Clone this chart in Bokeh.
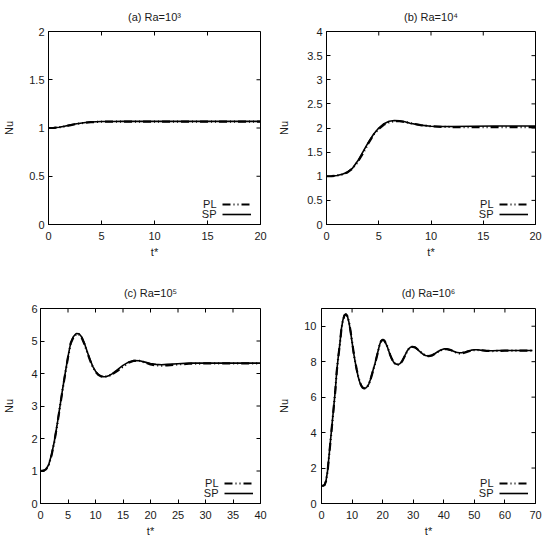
import math
from bokeh.plotting import figure
from bokeh.layouts import column, row
from bokeh.models import Range1d, FixedTicker, Legend, LegendItem, Label, CustomJSTickFormatter
from bokeh.core.properties import value
from bokeh.embed import file_html
from bokeh.resources import INLINE

FONT = "Liberation Sans"
TXT = "#1a1a1a"

# ---------------- data ----------------
titles = ["(a) Ra=10\u00b3", "(b) Ra=10\u2074", "(c) Ra=10\u2075", "(d) Ra=10\u2076"]
series_names = ["PL", "SP"]

a_xticks = [0, 5, 10, 15, 20]
a_yticks = [0, 0.5, 1, 1.5, 2]
a_t = [0, 0.5, 1, 1.5, 2, 2.5, 3, 3.5, 4, 4.5, 5, 6, 7, 8, 10, 12, 14, 16, 18, 19, 20]
a_sp = [1.000, 1.002, 1.008, 1.018, 1.030, 1.041, 1.050, 1.057, 1.062, 1.065, 1.067,
        1.068, 1.069, 1.069, 1.069, 1.069, 1.069, 1.069, 1.069, 1.069, 1.069]
a_pl = [1.000, 1.002, 1.007, 1.016, 1.028, 1.039, 1.048, 1.055, 1.060, 1.063, 1.065,
        1.066, 1.066, 1.066, 1.066, 1.066, 1.066, 1.066, 1.066, 1.066, 1.066]

b_xticks = [0, 5, 10, 15, 20]
b_yticks = [0, 0.5, 1, 1.5, 2, 2.5, 3, 3.5, 4]
b_t = [0, 0.5, 1, 1.5, 2, 2.5, 3, 3.5, 4, 4.5, 5, 5.5, 6, 6.5, 7, 7.5, 8, 9, 10, 11, 12,
       14, 16, 18, 20]
b_sp = [1.000, 1.003, 1.015, 1.040, 1.085, 1.17, 1.32, 1.51, 1.70, 1.87, 2.00, 2.09, 2.14,
        2.155, 2.15, 2.13, 2.10, 2.06, 2.035, 2.03, 2.03, 2.035, 2.04, 2.04, 2.04]
b_pl = [1.000, 1.003, 1.013, 1.037, 1.080, 1.16, 1.30, 1.48, 1.68, 1.86, 1.98, 2.07, 2.12,
        2.14, 2.14, 2.125, 2.10, 2.06, 2.035, 2.025, 2.02, 2.02, 2.02, 2.02, 2.02]

c_xticks = [0, 5, 10, 15, 20, 25, 30, 35, 40]
c_yticks = [0, 1, 2, 3, 4, 5, 6]
c_t = [0, 0.5, 1, 1.5, 2, 2.5, 3, 3.5, 4, 4.5, 5, 5.5, 6, 6.5, 7, 7.5, 8, 8.5, 9, 9.5,
       10, 10.5, 11, 11.5, 12, 12.5, 13, 14, 15, 16, 17, 18, 19, 20, 21, 22, 23, 25, 27,
       30, 35, 40]
c_sp = [1.00, 1.01, 1.05, 1.20, 1.50, 1.90, 2.40, 2.95, 3.50, 4.02, 4.52, 4.95, 5.14,
        5.23, 5.22, 5.12, 4.92, 4.67, 4.43, 4.22, 4.07, 3.97, 3.92, 3.90, 3.91, 3.94,
        3.99, 4.12, 4.25, 4.35, 4.40, 4.39, 4.35, 4.31, 4.28, 4.27, 4.28, 4.30, 4.32,
        4.32, 4.32, 4.32]
c_pl = [1.00, 1.01, 1.05, 1.19, 1.48, 1.88, 2.38, 2.93, 3.48, 4.00, 4.50, 4.93, 5.12,
        5.21, 5.20, 5.10, 4.90, 4.65, 4.41, 4.20, 4.05, 3.96, 3.91, 3.90, 3.91, 3.93,
        3.97, 4.08, 4.21, 4.33, 4.39, 4.39, 4.34, 4.28, 4.25, 4.24, 4.25, 4.28, 4.30,
        4.31, 4.31, 4.31]

d_xticks = [0, 10, 20, 30, 40, 50, 60, 70]
d_yticks = [0, 2, 4, 6, 8, 10]
d_t = [0, 0.5, 1, 1.5, 2, 2.5, 3, 3.5, 4, 4.5,
       5, 5.5, 6, 6.5, 7, 7.5, 8, 8.5, 9, 9.5,
       10, 10.5, 11, 11.5, 12, 12.5, 13, 13.5, 14, 14.5,
       15, 15.5, 16, 16.5, 17, 17.5, 18, 18.5, 19, 19.5,
       20, 20.5, 21, 21.5, 22, 22.5, 23, 23.5, 24, 24.5,
       25, 25.5, 26, 26.5, 27, 27.5, 28, 28.5, 29, 29.5,
       30, 30.5, 31, 32, 33, 34, 35, 36, 37, 38,
       39, 40, 41, 42, 43, 44, 45, 46, 47, 48,
       49, 50, 51, 52, 54, 56, 58, 60, 65, 69]
d_sp = [1.0, 1.0, 1.05, 1.3, 1.85, 2.75, 3.65, 4.55, 5.45, 6.35,
        7.5, 8.3, 9.0, 9.85, 10.35, 10.62, 10.68, 10.55, 10.2, 9.7,
        9.1, 8.5, 8.0, 7.55, 7.15, 6.85, 6.65, 6.53, 6.5, 6.52,
        6.6, 6.75, 7.0, 7.3, 7.6, 7.9, 8.25, 8.6, 8.95, 9.18,
        9.25, 9.2, 9.05, 8.85, 8.6, 8.35, 8.15, 8.0, 7.9, 7.86,
        7.85, 7.87, 7.95, 8.08, 8.25, 8.42, 8.6, 8.72, 8.8, 8.84,
        8.84, 8.82, 8.76, 8.6, 8.45, 8.35, 8.32, 8.36, 8.45, 8.56,
        8.66, 8.72, 8.72, 8.67, 8.6, 8.53, 8.5, 8.51, 8.55, 8.6,
        8.65, 8.67, 8.67, 8.65, 8.62, 8.62, 8.63, 8.63, 8.63, 8.63]
d_pl = [1.0, 1.0, 1.04, 1.28, 1.82, 2.72, 3.62, 4.52, 5.42, 6.32,
        7.47, 8.27, 8.98, 9.82, 10.33, 10.61, 10.68, 10.56, 10.22, 9.73,
        9.13, 8.53, 8.03, 7.57, 7.16, 6.86, 6.65, 6.53, 6.49, 6.51,
        6.58, 6.73, 6.97, 7.27, 7.57, 7.87, 8.22, 8.57, 8.92, 9.16,
        9.24, 9.2, 9.06, 8.87, 8.62, 8.37, 8.16, 8.0, 7.89, 7.84,
        7.83, 7.86, 7.93, 8.06, 8.23, 8.4, 8.58, 8.71, 8.79, 8.83,
        8.83, 8.81, 8.76, 8.61, 8.46, 8.35, 8.31, 8.34, 8.43, 8.54,
        8.64, 8.7, 8.71, 8.67, 8.6, 8.52, 8.47, 8.47, 8.52, 8.58,
        8.63, 8.65, 8.66, 8.65, 8.61, 8.6, 8.61, 8.62, 8.62, 8.62]


def style_axis(ax, ticks, label_standoff, axis_label_standoff):
    ax.ticker = FixedTicker(ticks=ticks)
    ax.formatter = CustomJSTickFormatter(code="return String(tick);")
    ax.major_tick_in = 4
    ax.major_tick_out = 0
    ax.minor_tick_line_color = None
    ax.axis_line_color = "black"
    ax.major_tick_line_color = "black"
    ax.major_label_text_font = FONT
    ax.major_label_text_font_size = "11px"
    ax.major_label_text_color = TXT
    ax.major_label_standoff = label_standoff
    ax.axis_label_text_font = FONT
    ax.axis_label_text_font_size = "11px"
    ax.axis_label_text_font_style = "normal"
    ax.axis_label_text_color = TXT
    ax.axis_label_standoff = axis_label_standoff


def panel(title, t, pl, sp, xmax, ymax, xticks, yticks, width, height,
          bl, br, bt, bb, ytick_so, ylab_so, title_so, key_text_r, key_glyph_r):
    fw = width - bl - br
    p = figure(width=width, height=height, x_range=Range1d(0, xmax), y_range=Range1d(0, ymax),
               output_backend="svg", toolbar_location=None, tools="",
               min_border_left=bl, min_border_right=br, min_border_top=bt,
               min_border_bottom=bb, x_axis_label="t*", y_axis_label="Nu")
    p.title.text = title
    p.title.align = "center"
    p.title.text_font = FONT
    p.title.text_font_size = "11px"
    p.title.text_font_style = "normal"
    p.title.text_color = TXT
    p.title.standoff = title_so
    p.xgrid.visible = False
    p.ygrid.visible = False
    p.outline_line_color = "black"
    p.outline_line_alpha = 1.0
    p.background_fill_color = "white"
    p.border_fill_color = "white"
    style_axis(p.xaxis[0], xticks, 7, 3)
    style_axis(p.yaxis[0], yticks, ytick_so, ylab_so)

    # mirrored tick marks on the right and top frame edges (gnuplot style)
    p.ray(x=[xmax] * len(yticks), y=yticks, length=4, length_units="screen",
          angle=math.pi, line_color="black", line_width=1)
    p.ray(x=xticks, y=[ymax] * len(xticks), length=4, length_units="screen",
          angle=-math.pi / 2, line_color="black", line_width=1)

    r_pl = p.line(t, pl, line_color="black", line_width=2.2, line_dash="8 3 1 3 1 3")
    r_sp = p.line(t, sp, line_color="black", line_width=1.6)

    leg = Legend(items=[LegendItem(label=value(" "), renderers=[r_pl]),
                        LegendItem(label=value(" "), renderers=[r_sp])],
                 location=(fw - key_glyph_r - 29, 5), glyph_width=29, glyph_height=10,
                 label_width=0, label_height=10, label_standoff=0, spacing=0, padding=0,
                 margin=0, border_line_color=None, background_fill_alpha=0,
                 label_text_font_size="8px")
    p.add_layout(leg)
    for name, yy in zip(series_names, (20.5, 10.5)):
        p.add_layout(Label(x=fw - key_text_r, y=yy, x_units="screen", y_units="screen",
                           text=name, text_align="right", text_baseline="middle",
                           text_font=FONT, text_font_size="11px", text_color=TXT))
    return p


pa = panel(titles[0], a_t, a_pl, a_sp, 20, 2, a_xticks, a_yticks, 275, 275,
           46, 15, 28, 51, 4, 11, 17, 46, 11)
pb = panel(titles[1], b_t, b_pl, b_sp, 20, 4, b_xticks, b_yticks, 275, 275,
           51, 15, 28, 51, 4, 14, 17, 42, 7)
pc = panel(titles[2], c_t, c_pl, c_sp, 40, 6, c_xticks, c_yticks, 275, 266,
           36, 15, 32, 38, 3, 13, 19, 46, 11)
pd = panel(titles[3], d_t, d_pl, d_sp, 70, 11, d_xticks, d_yticks, 275, 266,
           46, 15, 32, 38, 5, 11, 19, 42, 7)

layout = column(row(pa, pb), row(pc, pd))
open("out.html", "w").write(file_html(layout, INLINE))
